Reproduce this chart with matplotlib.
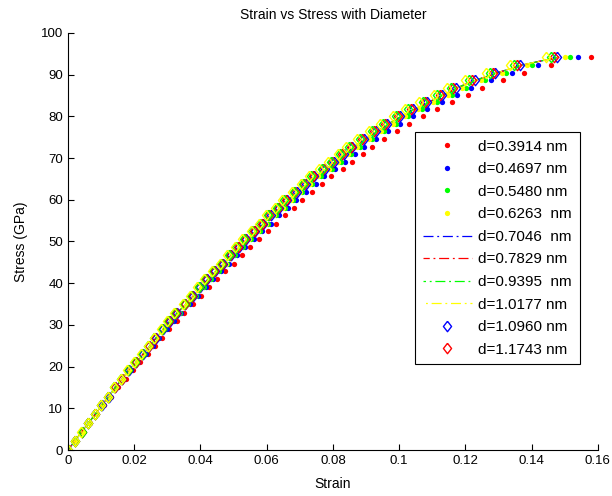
import numpy as np
import matplotlib
matplotlib.use("Agg")
import matplotlib.pyplot as plt

plt.rcParams['font.family'] = ['Liberation Sans', 'DejaVu Sans']

# applied stress levels (GPa), shared by all diameters
stress = [0, 2.2, 4.3, 6.5, 8.6, 10.7, 12.8, 15.0, 17.1, 19.2, 21.0, 23.0, 24.9, 26.9,
          28.9, 31.0, 32.9, 34.9, 37.0, 39.0, 40.9, 42.8, 44.7, 46.8, 48.7, 50.5, 52.4,
          54.3, 56.3, 58.1, 60.0, 61.9, 63.8, 65.6, 67.3, 69.1, 70.9, 72.7, 74.6, 76.4,
          78.2, 80.0, 81.7, 83.4, 85.2, 86.9, 88.7, 90.4, 92.3, 94.2]

# strain read for each diameter
strain_0391 = [0, 0.0022, 0.0044, 0.0066, 0.0088, 0.0109, 0.0131, 0.0152, 0.0174, 0.0195,
               0.0219, 0.0242, 0.0263, 0.0283, 0.0306, 0.0328, 0.0351, 0.0378, 0.0403, 0.0427,
               0.0449, 0.0474, 0.0500, 0.0525, 0.0550, 0.0576, 0.0603, 0.0629, 0.0654, 0.0682,
               0.0707, 0.0738, 0.0768, 0.0795, 0.0829, 0.0858, 0.0890, 0.0918, 0.0955, 0.0993,
               0.1030, 0.1071, 0.1113, 0.1159, 0.1207, 0.1251, 0.1312, 0.1378, 0.1458, 0.1578]
strain_0470 = [0, 0.0021, 0.0043, 0.0064, 0.0086, 0.0106, 0.0128, 0.0148, 0.0169, 0.0190,
               0.0213, 0.0236, 0.0256, 0.0276, 0.0298, 0.0319, 0.0342, 0.0368, 0.0393, 0.0416,
               0.0437, 0.0462, 0.0487, 0.0511, 0.0536, 0.0561, 0.0587, 0.0613, 0.0637, 0.0664,
               0.0689, 0.0719, 0.0748, 0.0774, 0.0807, 0.0836, 0.0867, 0.0894, 0.0930, 0.0967,
               0.1003, 0.1043, 0.1084, 0.1129, 0.1176, 0.1218, 0.1278, 0.1342, 0.1420, 0.1539]
strain_0548 = [0, 0.0021, 0.0042, 0.0063, 0.0084, 0.0105, 0.0126, 0.0146, 0.0167, 0.0187,
               0.0210, 0.0232, 0.0252, 0.0272, 0.0294, 0.0315, 0.0337, 0.0363, 0.0387, 0.0410,
               0.0431, 0.0455, 0.0480, 0.0504, 0.0528, 0.0553, 0.0579, 0.0604, 0.0628, 0.0655,
               0.0679, 0.0708, 0.0737, 0.0763, 0.0796, 0.0824, 0.0854, 0.0881, 0.0917, 0.0953,
               0.0989, 0.1028, 0.1068, 0.1113, 0.1159, 0.1201, 0.1260, 0.1323, 0.1400, 0.1515]
strain_0626 = [0, 0.0021, 0.0042, 0.0063, 0.0084, 0.0104, 0.0125, 0.0145, 0.0165, 0.0185,
               0.0208, 0.0230, 0.0250, 0.0269, 0.0291, 0.0312, 0.0334, 0.0359, 0.0383, 0.0406,
               0.0427, 0.0451, 0.0476, 0.0499, 0.0523, 0.0548, 0.0573, 0.0598, 0.0622, 0.0649,
               0.0672, 0.0702, 0.0730, 0.0756, 0.0788, 0.0816, 0.0846, 0.0873, 0.0908, 0.0944,
               0.0980, 0.1019, 0.1058, 0.1102, 0.1148, 0.1190, 0.1248, 0.1310, 0.1387, 0.1501]
# d = 0.7046 ... 1.0177 nm lie on top of each other
strain_lines = [0, 0.0021, 0.0041, 0.0062, 0.0083, 0.0102, 0.0123, 0.0143, 0.0164, 0.0183,
                0.0206, 0.0227, 0.0247, 0.0266, 0.0288, 0.0308, 0.0330, 0.0355, 0.0379, 0.0401,
                0.0422, 0.0446, 0.0470, 0.0494, 0.0517, 0.0541, 0.0567, 0.0591, 0.0615, 0.0641,
                0.0665, 0.0694, 0.0722, 0.0747, 0.0779, 0.0807, 0.0837, 0.0863, 0.0898, 0.0933,
                0.0968, 0.1007, 0.1046, 0.1089, 0.1135, 0.1176, 0.1233, 0.1295, 0.1371, 0.1483]
strain_1096 = [0, 0.0021, 0.0041, 0.0062, 0.0082, 0.0102, 0.0123, 0.0142, 0.0163, 0.0183,
               0.0205, 0.0227, 0.0246, 0.0265, 0.0286, 0.0307, 0.0329, 0.0354, 0.0377, 0.0400,
               0.0420, 0.0444, 0.0468, 0.0491, 0.0515, 0.0539, 0.0564, 0.0589, 0.0612, 0.0638,
               0.0662, 0.0691, 0.0719, 0.0744, 0.0776, 0.0803, 0.0833, 0.0859, 0.0894, 0.0929,
               0.0964, 0.1002, 0.1042, 0.1085, 0.1130, 0.1171, 0.1228, 0.1290, 0.1365, 0.1477]
strain_1174 = [0, 0.0020, 0.0041, 0.0061, 0.0082, 0.0101, 0.0122, 0.0141, 0.0162, 0.0181,
               0.0204, 0.0225, 0.0245, 0.0263, 0.0285, 0.0305, 0.0326, 0.0352, 0.0375, 0.0397,
               0.0418, 0.0441, 0.0465, 0.0488, 0.0512, 0.0536, 0.0561, 0.0585, 0.0608, 0.0634,
               0.0658, 0.0686, 0.0714, 0.0739, 0.0771, 0.0798, 0.0828, 0.0854, 0.0888, 0.0923,
               0.0958, 0.0996, 0.1035, 0.1078, 0.1123, 0.1163, 0.1220, 0.1282, 0.1356, 0.1468]
# two more diamond series that are plotted but not in the legend
strain_g = [0, 0.0020, 0.0041, 0.0061, 0.0081, 0.0101, 0.0121, 0.0140, 0.0161, 0.0180,
            0.0202, 0.0224, 0.0243, 0.0261, 0.0283, 0.0303, 0.0324, 0.0349, 0.0372, 0.0395,
            0.0415, 0.0438, 0.0462, 0.0485, 0.0508, 0.0532, 0.0557, 0.0581, 0.0604, 0.0630,
            0.0653, 0.0682, 0.0710, 0.0735, 0.0766, 0.0793, 0.0822, 0.0848, 0.0882, 0.0918,
            0.0952, 0.0990, 0.1028, 0.1071, 0.1115, 0.1156, 0.1212, 0.1273, 0.1347, 0.1458]
strain_y = [0, 0.0020, 0.0040, 0.0060, 0.0081, 0.0100, 0.0120, 0.0139, 0.0159, 0.0178,
            0.0200, 0.0221, 0.0241, 0.0259, 0.0280, 0.0300, 0.0321, 0.0346, 0.0369, 0.0391,
            0.0411, 0.0434, 0.0458, 0.0480, 0.0503, 0.0527, 0.0552, 0.0576, 0.0598, 0.0624,
            0.0647, 0.0675, 0.0703, 0.0727, 0.0759, 0.0785, 0.0814, 0.0840, 0.0874, 0.0909,
            0.0942, 0.0980, 0.1018, 0.1060, 0.1104, 0.1145, 0.1200, 0.1261, 0.1334, 0.1444]

labels = ['d=0.3914 nm', 'd=0.4697 nm', 'd=0.5480 nm', 'd=0.6263  nm', 'd=0.7046  nm',
          'd=0.7829 nm', 'd=0.9395  nm', 'd=1.0177 nm', 'd=1.0960 nm', 'd=1.1743 nm']
xticks = [0, 0.02, 0.04, 0.06, 0.08, 0.1, 0.12, 0.14, 0.16]
xticklabels = ['0', '0.02', '0.04', '0.06', '0.08', '0.1', '0.12', '0.14', '0.16']

fig = plt.figure(figsize=(6.12, 4.96), dpi=100)
ax = fig.add_axes([0.111, 0.0927, 0.866, 0.841])

dot = dict(linestyle='none', marker='o', markersize=3.8, markeredgewidth=0)
ax.plot(strain_0391, stress, color='red', label=labels[0], **dot)
ax.plot(strain_0470, stress, color='blue', label=labels[1], **dot)
ax.plot(strain_0548, stress, color='lime', label=labels[2], **dot)
ax.plot(strain_0626, stress, color='yellow', label=labels[3], **dot)

ax.plot(strain_lines, stress, color='blue', linestyle=(0, (8, 3, 1.5, 3)), lw=0.9, label=labels[4])
ax.plot(strain_lines, stress, color='red', linestyle=(3, (8, 3, 1.5, 3)), lw=0.9, label=labels[5])
ax.plot(strain_lines, stress, color='lime', linestyle=(6, (8, 3, 1.5, 3)), lw=0.9, label=labels[6])
ax.plot(strain_lines, stress, color='yellow', linestyle=(9, (8, 3, 1.5, 3)), lw=0.9, label=labels[7])

# matlab style diamond, a bit taller than wide
diamond = [(0, 1), (0.78, 0), (0, -1), (-0.78, 0), (0, 1)]
dia = dict(linestyle='none', marker=diamond, markersize=7.5, markerfacecolor='none',
           markeredgewidth=1)
ax.plot(strain_1096, stress, markeredgecolor='blue', label=labels[8], **dia)
ax.plot(strain_1174, stress, markeredgecolor='red', label=labels[9], **dia)
ax.plot(strain_g, stress, markeredgecolor='lime', **dia)
ax.plot(strain_y, stress, markeredgecolor='yellow', **dia)

ax.set_xlim(0, 0.16)
ax.set_ylim(0, 100)
ax.set_xticks(xticks)
ax.set_xticklabels(xticklabels)
ax.set_yticks(np.arange(0, 101, 10))
ax.spines['top'].set_visible(False)
ax.spines['right'].set_visible(False)
ax.tick_params(direction='in', length=4, labelsize=9.5, width=0.8)
ax.set_title('Strain vs Stress with Diameter', fontsize=10, pad=10)
ax.set_xlabel('Strain', fontsize=10, labelpad=7)
ax.set_ylabel('Stress (GPa)', fontsize=10, labelpad=9)

leg = ax.legend(loc='upper left', bbox_to_anchor=(415 / 612, 1 - 132 / 496),
                bbox_transform=fig.transFigure, borderaxespad=0, fontsize=11,
                fancybox=False, edgecolor='black', framealpha=1, handlelength=3.2,
                labelspacing=0.56, borderpad=0.5, handletextpad=0.45)
leg.get_frame().set_linewidth(0.8)

fig.savefig('out.png', dpi=100, facecolor='white')
